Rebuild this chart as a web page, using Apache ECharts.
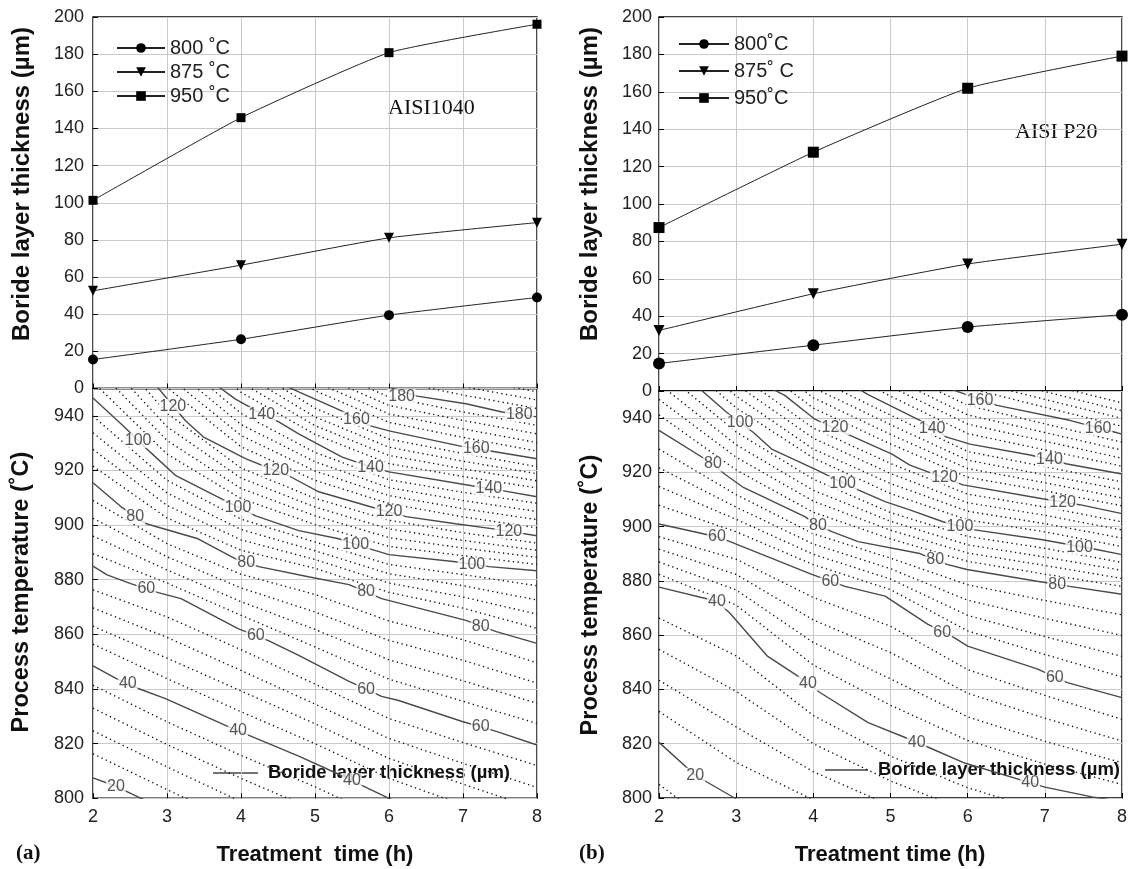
<!DOCTYPE html>
<html>
<head>
<meta charset="utf-8">
<script src="https://cdn.jsdelivr.net/npm/echarts@6.0.0/dist/echarts.min.js"></script>
<style>html,body{margin:0;padding:0;background:#fff;}#main{width:1132px;height:869px;}</style>
</head>
<body>
<div id="main"></div>
<script>
// ---------- top charts: measured boride layer thickness (µm) ----------
const topTimes = [2, 4, 6, 8];
const a800 = [15.6, 26.5, 39.5, 49.0];
const a875 = [52.6, 66.4, 81.1, 89.3];
const a950 = [101.3, 145.8, 180.8, 196.1];
const b800 = [14.7, 24.5, 34.2, 40.8];
const b875 = [32.4, 52.0, 67.9, 78.5];
const b950 = [87.4, 127.7, 161.9, 179.1];
const aSeriesNames = ['800 ˚C', '875 ˚C', '950 ˚C'];
const bSeriesNames = ['800˚C', '875˚ C', '950˚C'];
const thickTicks = [0, 200, 20];      // min, max, step (µm)
const tempTicks = [800, 950, 20];     // min, max, step (°C)
const timeTicks = [2, 8, 1];          // min, max, step (h)

// ---------- contour maps: solid iso-lines [time h, temperature °C] ----------
const aSolid20 = [[2,807.5],[2.31,804.4],[2.65,800],[3,795]];
const aSolid40 = [[2,848.5],[2.31,843.9],[2.61,840.2],[2.98,836.5],[3.79,826.7],[4.14,822.7],[4.78,815.4],[5.32,808.8],[5.66,804.4],[6,800],[6.3,796]];
const aSolid60 = [[2,885],[2.19,881.8],[2.51,878.6],[2.88,875.3],[3.19,873.1],[3.96,862.1],[4.37,857.7],[4.78,852.3],[5.46,842.8],[5.9,837.3],[6.13,835.8],[6.99,828.1],[7.45,824.5],[8,819.5]];
const aSolid80 = [[2,915.5],[2.38,906.7],[2.72,900.5],[3.42,895],[3.92,887.7],[4.24,884.8],[4.91,881.1],[5.46,878.2],[5.9,873.1],[7.04,865.1],[7.45,861],[8,856.7]];
const aSolid100 = [[1.95,948],[2,946.5],[2.41,936.3],[2.77,926.8],[3.12,918.1],[3.79,908.9],[4.2,903.4],[4.78,898],[5.32,895],[5.73,891.4],[6,889.2],[6.9,886.6],[7.35,884.8],[8,883.3]];
const aSolid120 = [[2.84,951.5],[3.25,938.2],[3.49,932.3],[4.06,924.3],[4.67,917.7],[5.05,912.2],[5.75,906.7],[6.23,903.1],[6.9,900.5],[7.39,898.7],[8,896.1]];
const aSolid140 = [[3.68,951],[3.92,946.2],[4.28,940.7],[4.51,937.8],[4.78,933.4],[5.36,925],[5.75,921.3],[6,919.5],[7.12,914.4],[7.53,912.6],[8,910.4]];
const aSolid160 = [[4.6,951],[4.78,948.8],[5.36,941.8],[5.56,938.9],[5.75,936.3],[6,934.5],[6.95,929],[7.35,927.2],[8,924.3]];
const aSolid180 = [[5.95,951],[6.36,947.3],[7.04,944.4],[7.53,941.4],[8,939.6]];

const bSolid20 = [[2,820.5],[2.47,808.4],[2.62,805.9],[2.98,800],[3.1,797]];
const bSolid40 = [[2,877.7],[2.75,872.5],[2.92,868.1],[3.4,852.4],[3.79,845.1],[4.09,838.8],[4.71,827.8],[5.19,822.3],[5.49,818.7],[5.97,812.8],[7,804],[7.61,800.4],[7.71,800],[8,798.5]];
const bSolid60 = [[2,901],[2.75,896.3],[2.92,894.5],[3.98,882.4],[4.41,878],[4.93,874.4],[5.48,864.1],[5.83,859],[6,856],[6.9,847.6],[7.29,842.5],[8,837]];
const bSolid80 = [[2,935.5],[2.7,923.1],[2.85,919.4],[3.08,914.7],[3.89,903.7],[4.06,900.4],[4.24,898.2],[4.58,894.5],[5.38,890.1],[5.73,886.1],[5.99,884.2],[6.9,879.9],[7.32,878],[8,875.1]];
const bSolid100 = [[2.5,951.5],[2.88,942.1],[3.22,934.8],[3.46,928.6],[4.02,921.2],[4.18,919],[4.58,913.6],[4.93,909.2],[5.25,906.2],[5.68,901.8],[6.07,898.9],[6.97,895.2],[7.67,891.6],[8,889.7]];
const bSolid120 = [[3.45,951],[3.63,948.4],[4.02,939.6],[4.44,934.1],[5.02,926.7],[5.25,922.7],[5.94,915.4],[6.97,910.3],[7.45,908.1],[8,904.8]];
const bSolid140 = [[4.6,950.5],[4.71,948.7],[5.38,939.2],[5.73,933],[6.03,930.4],[6.81,926.4],[7.29,923.1],[8,919.4]];
const bSolid160 = [[5.8,950.5],[6.38,944.7],[7.32,939.2],[7.91,934.8],[8,934.1]];

// ---------- contour maps: dotted iso-lines (every 4 µm), temperature at each treatment time ----------
const dotTimes = [2, 3, 4, 5, 6, 7, 8];
const aDotLevels = [24,28,32,36,44,48,52,56,64,68,72,76,84,88,92,96,104,108,112,116,124,128,132,136,144,148,152,156,164,168,172,176,184,188,192,196];
const aDotTemps = [
  [816.3,803.2,790.4,778.6,766.4,754.8,743.2],
  [824.7,811.5,798.8,787.1,774.8,763.6,752.4],
  [833.0,819.7,807.3,795.7,783.2,772.4,761.6],
  [841.4,828.0,815.7,804.2,791.6,781.2,770.8],
  [856.4,843.8,831.7,820.0,807.3,797.6,788.0],
  [863.0,851.3,839.3,827.3,814.6,805.2,796.0],
  [869.7,858.9,846.8,834.5,821.9,812.8,804.0],
  [876.3,866.4,854.4,841.8,829.2,820.4,812.0],
  [889.5,878.8,867.0,855.4,843.6,835.5,827.4],
  [896.0,883.6,872.0,861.8,850.7,843.0,834.8],
  [902.5,888.4,877.0,868.2,857.8,850.5,842.2],
  [909.0,893.2,882.0,874.6,864.9,858.0,849.6],
  [921.6,902.6,890.8,884.2,875.4,869.6,862.2],
  [927.7,907.2,894.6,887.4,878.8,873.7,867.4],
  [933.8,911.8,898.4,890.6,882.2,877.8,872.6],
  [939.9,916.4,902.2,893.8,885.6,881.9,877.8],
  [952.4,926.0,909.7,900.2,892.2,888.8,885.6],
  [958.8,931.0,913.4,903.4,895.4,891.6,888.2],
  [965.2,936.0,917.2,906.6,898.6,894.4,890.8],
  [971.6,941.0,920.9,909.8,901.8,897.2,893.4],
  [982.4,950.4,928.7,916.4,907.9,903.0,899.0],
  [986.8,954.8,932.8,919.8,910.8,906.0,902.0],
  [991.2,959.2,936.8,923.2,913.7,909.0,905.0],
  [995.6,963.6,940.9,926.6,916.6,912.0,908.0],
  [1004,972.4,948.6,933.2,922.5,917.8,913.6],
  [1008,976.8,952.2,936.4,925.5,920.6,916.2],
  [1012,981.2,955.8,939.6,928.5,923.4,918.8],
  [1016,985.6,959.4,942.8,931.5,926.2,921.4],
  [1024,994,966.4,949.2,937.6,932.1,927.1],
  [1028,998,969.8,952.4,940.7,935.2,930.2],
  [1032,1002,973.2,955.6,943.8,938.3,933.4],
  [1036,1006,976.6,958.8,946.9,941.4,936.5],
  [1044,1014,984,965.2,953.2,947.6,942.7],
  [1048,1018,988,968.4,956.4,950.7,945.8],
  [1052,1022,992,971.6,959.6,953.8,948.8],
  [1056,1026,996,974.8,962.8,956.9,951.9]
];
const bDotLevels = [16,24,28,32,36,44,48,52,56,64,68,72,76,84,88,92,96,104,108,112,116,124,128,132,136,144,148,152,156,164,168,172,176];
const bDotTemps = [
  [805,784,774,765,756,747,738],
  [831.9,813.1,799.3,788.1,777.7,768.0,758.6],
  [843.4,826.2,809.7,797.2,786.4,777.0,768.2],
  [854.8,839.3,820.0,806.3,795.1,786.0,777.8],
  [866.3,852.4,830.4,815.4,803.8,795.0,787.4],
  [882.4,871.1,849.0,834.2,821.2,812.5,805.0],
  [887.0,876.7,857.3,843.9,829.9,820.9,813.0],
  [891.7,882.4,865.6,853.6,838.6,829.4,821.0],
  [896.3,888.0,873.9,863.3,847.3,837.8,829.0],
  [907.9,898.1,886.0,876.8,861.6,852.9,844.6],
  [914.8,902.7,889.8,880.7,867.3,859.5,852.2],
  [921.7,907.2,893.6,884.5,872.9,866.2,859.9],
  [928.6,911.8,897.4,888.4,878.6,872.8,867.5],
  [941.2,920.9,905.3,895.5,887.2,882.5,878.0],
  [946.9,925.6,909.4,898.7,890.3,885.7,880.9],
  [952.6,930.2,913.4,902.0,893.3,888.8,883.9],
  [958.3,934.9,917.5,905.2,896.4,892.0,886.8],
  [968.2,943.8,925.3,912.2,902.5,898.1,892.7],
  [972.4,948.1,928.6,915.9,905.7,901.1,895.8],
  [976.6,952.4,932.6,919.6,908.8,904.2,898.8],
  [980.8,956.7,936.3,923.3,912.0,907.2,901.8],
  [989,965.2,943.7,930.5,918.2,913.2,907.7],
  [993,969.4,947.5,934.0,921.4,916.2,910.6],
  [997,973.6,951.2,937.6,924.5,919.1,913.6],
  [1001,977.8,955.0,941.1,927.7,922.1,916.5],
  [1009,985.6,962.6,948.1,934.3,928.3,922.3],
  [1013,989.2,966.4,951.6,937.8,931.5,925.2],
  [1017,992.8,970.3,955.0,941.2,934.7,928.2],
  [1021,996.4,974.1,958.5,944.7,937.9,931.1],
  [1029,1004,981.6,965.2,951.2,944.0,937.0],
  [1033,1008,985.2,968.4,954.1,946.9,939.9],
  [1037,1012,988.8,971.6,957.1,949.8,942.7],
  [1041,1016,992.4,974.8,960.0,952.7,945.6]
];

// ---------- contour labels [time, temperature, text] ----------
const aLabels = [[3.08,943.5,'120'],[4.28,940.5,'140'],[6.17,947,'180'],[7.76,940.5,'180'],[2.61,931,'100'],[5.56,938.8,'160'],[7.18,928,'160'],[4.47,920,'120'],[5.75,921.2,'140'],[7.35,913.3,'140'],[3.96,906.5,'100'],[6.0,904.8,'120'],[7.62,897.7,'120'],[2.57,903.2,'80'],[5.55,893,'100'],[7.12,885.6,'100'],[4.07,886.3,'80'],[2.72,876.7,'60'],[5.69,875.6,'80'],[7.24,863,'80'],[4.2,859.4,'60'],[5.69,839.8,'60'],[7.24,826.1,'60'],[2.47,841.9,'40'],[3.96,824.8,'40'],[5.5,806.5,'40'],[2.31,804.4,'20']];
const bLabels = [[3.05,938.5,'100'],[4.28,936.5,'120'],[6.16,946.5,'160'],[5.54,936.2,'140'],[7.69,936.2,'160'],[2.7,923.1,'80'],[4.38,916,'100'],[5.7,918.2,'120'],[7.06,924.6,'140'],[2.75,896.3,'60'],[4.06,900.4,'80'],[5.9,900.1,'100'],[7.23,908.8,'120'],[5.58,887.9,'80'],[7.45,892.3,'100'],[2.75,872.5,'40'],[4.22,879.8,'60'],[7.16,878.8,'80'],[5.67,861,'60'],[3.93,842.1,'40'],[7.13,844.4,'60'],[5.34,820.5,'40'],[6.81,805.5,'40'],[2.47,808.4,'20']];

// ---------- build chart ----------
const FONT = "'Liberation Sans', Arial, Helvetica, sans-serif";
const SERIF = "'Liberation Serif', 'Times New Roman', serif";
const grids = [
  {left: 93, top: 17, width: 444, height: 371.5},
  {left: 93, top: 388.5, width: 444, height: 409.8},
  {left: 659, top: 17, width: 463, height: 374},
  {left: 659, top: 391, width: 463, height: 407}
].map(g => Object.assign({show: true, borderColor: '#000', borderWidth: 1.4, backgroundColor: 'transparent'}, g));

const splitLine = {show: true, lineStyle: {color: '#c9c9c9', width: 1}};
const tick = {show: true, inside: true, length: 5, lineStyle: {color: '#000', width: 1}};
function xAxis(gi, showLabels) {
  return {type: 'value', gridIndex: gi, min: timeTicks[0], max: timeTicks[1], interval: timeTicks[2],
    axisLine: {show: false}, axisTick: tick, splitLine,
    axisLabel: {show: showLabels, fontSize: 18, color: '#222', fontFamily: FONT, margin: 10}};
}
function yAxis(gi, ticks, hideMax, margin) {
  return {type: 'value', gridIndex: gi, min: ticks[0], max: ticks[1], interval: ticks[2],
    axisLine: {show: false}, axisTick: tick, splitLine,
    axisLabel: {fontSize: 18, color: '#222', fontFamily: FONT, margin: margin, showMaxLabel: !hideMax}};
}

const series = [];
function topSeries(name, vals, symbol, size, rot, gi) {
  series.push({type: 'line', name, xAxisIndex: gi, yAxisIndex: gi,
    data: topTimes.map((t, i) => [t, vals[i]]),
    smooth: 0.15, symbol, symbolSize: size, symbolRotate: rot,
    lineStyle: {color: '#222', width: 1}, itemStyle: {color: '#000'}, z: 5, animation: false});
}
topSeries(aSeriesNames[0], a800, 'circle', 10, 0, 0);
topSeries(aSeriesNames[1], a875, 'triangle', 10, 180, 0);
topSeries(aSeriesNames[2], a950, 'rect', 9, 0, 0);
topSeries(bSeriesNames[0], b800, 'circle', 12, 0, 2);
topSeries(bSeriesNames[1], b875, 'triangle', 11, 180, 2);
topSeries(bSeriesNames[2], b950, 'rect', 11, 0, 2);

function contour(data, gi, dotted) {
  series.push({type: 'line', xAxisIndex: gi, yAxisIndex: gi, data, symbol: 'none', showSymbol: false,
    silent: true, clip: true, animation: false, z: dotted ? 2 : 3,
    lineStyle: dotted ? {color: '#111', width: 1.4, type: [1.3, 3.4]} : {color: '#4a4a4a', width: 1.4}});
}
aDotTemps.forEach(row => contour(dotTimes.map((t, i) => [t, row[i]]), 1, true));
bDotTemps.forEach(row => contour(dotTimes.map((t, i) => [t, row[i]]), 3, true));
[aSolid20, aSolid40, aSolid60, aSolid80, aSolid100, aSolid120, aSolid140, aSolid160, aSolid180].forEach(d => contour(d, 1, false));
[bSolid20, bSolid40, bSolid60, bSolid80, bSolid100, bSolid120, bSolid140, bSolid160].forEach(d => contour(d, 3, false));

function labelSeries(data, gi) {
  series.push({type: 'scatter', xAxisIndex: gi, yAxisIndex: gi, data, symbol: 'rect', symbolSize: 1,
    itemStyle: {color: 'rgba(0,0,0,0)'}, silent: true, animation: false, z: 6,
    label: {show: true, position: 'inside', formatter: p => p.value[2], fontSize: 16, lineHeight: 15,
      color: '#2a2a2a', fontFamily: FONT, backgroundColor: '#fff', padding: [0, 1]}});
}
labelSeries(aLabels, 1);
labelSeries(bLabels, 3);

function vText(text, x, y, font) {
  return {type: 'text', x, y, rotation: Math.PI / 2, silent: true,
    style: {text, font, fill: '#111', textAlign: 'center', textVerticalAlign: 'middle'}};
}
function hText(text, x, y, font, align) {
  return {type: 'text', x, y, silent: true,
    style: {text, font, fill: '#111', textAlign: align || 'center', textVerticalAlign: 'middle'}};
}
const nameFont = "bold 24px " + FONT;
const graphic = [
  vText('Boride layer thickness (µm)', 22, 184, nameFont),
  vText('Process temperature (˚C)', 22, 592, "bold 23.5px " + FONT),
  vText('Boride layer thickness (µm)', 590, 184, nameFont),
  vText('Process temperature (˚C)', 591, 595, "bold 23.5px " + FONT),
  hText('Treatment  time (h)', 315, 855, "bold 22px " + FONT),
  hText('Treatment time (h)', 890, 855, "bold 22px " + FONT),
  hText('(a)', 16, 854, "bold 21px " + SERIF, 'left'),
  hText('(b)', 579, 854, "bold 21px " + SERIF, 'left'),
  hText('AISI1040', 388, 108, "22px " + SERIF, 'left'),
  hText('AISI P20', 1015, 132, "22px " + SERIF, 'left'),
  {type: 'line', silent: true, shape: {x1: 213, y1: 773, x2: 258, y2: 773}, style: {stroke: '#444', lineWidth: 1.4}},
  hText('Boride layer thickness (µm)', 268, 773, "bold 18.5px " + FONT, 'left'),
  {type: 'line', silent: true, shape: {x1: 825, y1: 770, x2: 868, y2: 770}, style: {stroke: '#444', lineWidth: 1.4}},
  hText('Boride layer thickness (µm)', 878, 770, "bold 18.5px " + FONT, 'left')
];

const legendBase = {orient: 'vertical', itemHeight: 12, selectedMode: false,
  textStyle: {fontSize: 20, color: '#222', fontFamily: FONT}};
const option = {
  backgroundColor: '#fff',
  animation: false,
  grid: grids,
  xAxis: [xAxis(0, false), xAxis(1, true), xAxis(2, false), xAxis(3, true)],
  yAxis: [yAxis(0, thickTicks, false, 9), yAxis(1, tempTicks, true, 9), yAxis(2, thickTicks, false, 7), yAxis(3, tempTicks, true, 7)],
  legend: [
    Object.assign({}, legendBase, {data: aSeriesNames, left: 111, top: 33, itemWidth: 48, itemGap: 4}),
    Object.assign({}, legendBase, {data: bSeriesNames, left: 673, top: 29, itemWidth: 50, itemGap: 7})
  ],
  graphic,
  series
};
const chart = echarts.init(document.getElementById('main'), null, {renderer: 'canvas'});
chart.setOption(option);
</script>
</body>
</html>
